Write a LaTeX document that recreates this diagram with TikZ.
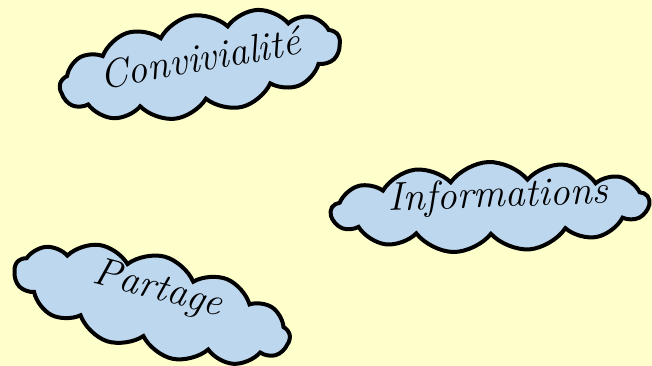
\documentclass[tikz,border=0pt]{standalone}
\usepackage{xcolor}
\usetikzlibrary{shapes.symbols}
\definecolor{paper}{RGB}{255,255,204}
\definecolor{cloudblue}{RGB}{189,215,238}

\begin{document}
\begin{tikzpicture}[x=1pt,y=-1pt,
  bubble/.style={cloud, draw=black, line width=4pt, fill=cloudblue,
    cloud puffs=13, cloud puff arc=105, cloud ignores aspect, inner sep=0pt},
  word/.style={font=\fontsize{40}{44}\selectfont\itshape, inner sep=0pt}]
% Background
\fill[paper] (0,0) rectangle (652,366);
\useasboundingbox (0,0) rectangle (652,366);
% Clouds
\node[bubble, minimum width=284pt, minimum height=100pt, rotate=10] (convivialite) at (200,65) {};
\node[bubble, minimum width=318pt, minimum height=90pt, rotate=2] (informations) at (490,207) {};
\node[bubble, minimum width=284pt, minimum height=98pt, rotate=-15] (partage) at (152,304) {};
% Words
\node[word, rotate=10] at (200,58) {Convivialité};
\node[word, rotate=2] at (498,197) {Informations};
\node[word, rotate=-15] at (158,290) {Partage};
\end{tikzpicture}
\end{document}
